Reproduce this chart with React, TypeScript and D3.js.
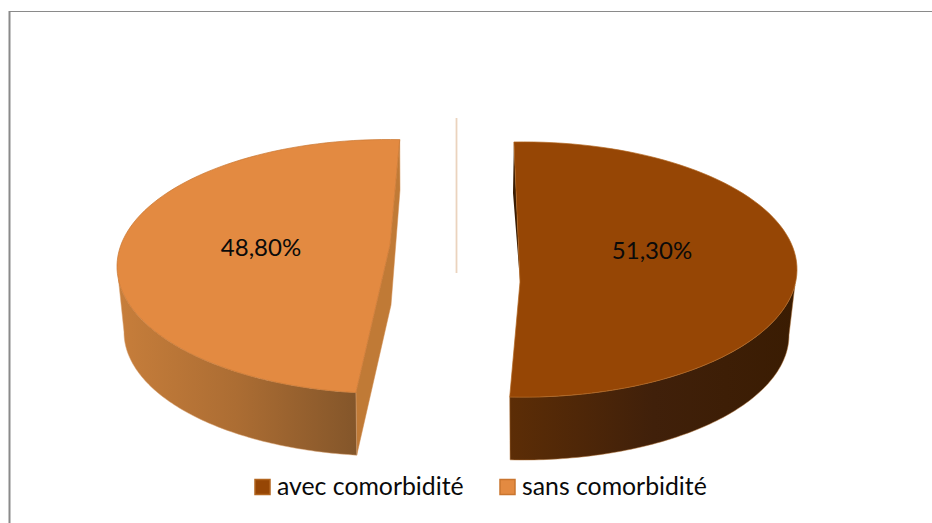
import React from "react";
import * as d3 from "d3";

const categories = ["avec comorbidité", "sans comorbidité"];
const values = [51.3, 48.8];
const valueLabels = ["51,30%", "48,80%"];
const topColors = ["#964605", "#E38A41"];
const edgeColors = ["#B2651F", "#C9752F"];
const startAngles = [-1.9, 186.8];
const wallStops = [
  ["#5C2D06", "#40200A", "#3A1C02"],
  ["#C77E3B", "#AC6D33", "#84562A"],
];

const W = 932;
const H = 523;
const rad = d3.scaleLinear().domain([0, 360]).range([0, 2 * Math.PI]);
const share = d3.scaleLinear().domain([0, 100]).range([0, 360]);

type Ellipse = { cx: number; cy: number; rx: number; ry: number };
type Geo = { top: Ellipse; base: Ellipse; wallFrom: number; apex: [number, number]; inner: [number, number][] };
const geos: Geo[] = [
  {
    top: { cx: 523, cy: 269.5, rx: 274, ry: 127.6 },
    base: { cx: 523, cy: 335, rx: 266, ry: 125 },
    wallFrom: 97,
    apex: [520, 282],
    inner: [[513, 193], [520, 281]],
  },
  {
    top: { cx: 388, cy: 266.5, rx: 271, ry: 127 },
    base: { cx: 388, cy: 332, rx: 264, ry: 124 },
    wallFrom: 264,
    apex: [390, 245],
    inner: [[400, 190], [391, 305]],
  },
];

const line = d3.line<[number, number]>().curve(d3.curveLinear);

function pt(e: Ellipse, deg: number): [number, number] {
  const a = rad(deg);
  return [e.cx + e.rx * Math.sin(a), e.cy - e.ry * Math.cos(a)];
}
function arcPts(e: Ellipse, from: number, to: number): [number, number][] {
  const n = 90;
  return d3.range(n + 1).map((i) => pt(e, from + ((to - from) * i) / n));
}

export default function App() {
  const slices = values.map((v, i) => {
    const start = startAngles[i];
    return { start, end: start + share(v), g: geos[i] };
  });
  const [r, l] = slices;

  const topPath = (s: typeof r) => line([...arcPts(s.g.top, s.start, s.end), s.g.apex])! + "Z";

  const rightWall = line([...arcPts(r.g.top, r.g.wallFrom, r.end), ...arcPts(r.g.base, r.end, 90)])! + "Z";
  const leftWall = line([...arcPts(l.g.top, l.g.wallFrom, l.start), ...arcPts(l.g.base, l.start, 270)])! + "Z";

  const leftInner = line([
    pt(l.g.top, l.end),
    l.g.inner[0],
    l.g.inner[1],
    pt(l.g.base, l.start),
    pt(l.g.top, l.start),
    l.g.apex,
  ])! + "Z";

  const rightInner = line([pt(r.g.top, r.start), r.g.inner[0], r.g.inner[1], r.g.apex])! + "Z";

  const labelPos: [number, number][] = [[652, 253], [261, 250]];
  const legendSwatch = [255, 500];
  const legendText = [277, 522];

  return (
    <svg
      width={W}
      height={H}
      viewBox={`0 0 ${W} ${H}`}
      style={{ position: "fixed", left: 0, top: 0, background: "#fff", display: "block" }}
    >
      <defs>
        <linearGradient id="wall0" gradientUnits="userSpaceOnUse" x1={510} x2={797} y1={0} y2={0}>
          {wallStops[0].map((c, i) => (
            <stop key={i} offset={`${i * 50}%`} stopColor={c} />
          ))}
        </linearGradient>
        <linearGradient id="wall1" gradientUnits="userSpaceOnUse" x1={117} x2={355} y1={0} y2={0}>
          {wallStops[1].map((c, i) => (
            <stop key={i} offset={`${i * 50}%`} stopColor={c} />
          ))}
        </linearGradient>
      </defs>

      <line x1={9.5} x2={9.5} y1={11} y2={H} stroke="#8a8a8a" strokeWidth={2} />
      <line x1={9} x2={W} y1={11.5} y2={11.5} stroke="#8a8a8a" strokeWidth={1.2} />

      <line x1={456.5} x2={456.5} y1={118} y2={273} stroke="#EBD3BE" strokeWidth={1.8} />

      <path d={leftInner} fill="#C07A36" stroke="#D08A4C" strokeWidth={0.5} />
      <path d={leftWall} fill="url(#wall1)" stroke="#D9A272" strokeWidth={0.5} />
      <path d={topPath(l)} fill={topColors[1]} stroke={edgeColors[1]} strokeWidth={0.7} />

      <path d={rightInner} fill="#3A1C02" />
      <path d={rightWall} fill="url(#wall0)" stroke="#B5763C" strokeWidth={0.5} />
      <path d={topPath(r)} fill={topColors[0]} stroke={edgeColors[0]} strokeWidth={0.7} />

      {valueLabels.map((t, i) => (
        <text
          key={t}
          x={labelPos[i][0]}
          y={labelPos[i][1]}
          textAnchor="middle"
          dominantBaseline="middle"
          fontFamily="Lato, 'Open Sans', sans-serif"
          fontSize={24}
          fill="#0a0a0a"
        >
          {t}
        </text>
      ))}

      {categories.map((c, i) => (
        <g key={c}>
          <rect
            x={legendSwatch[i]}
            y={479.5}
            width={15}
            height={15}
            fill={topColors[i]}
            stroke={edgeColors[i]}
            strokeWidth={1.5}
          />
          <text
            x={legendText[i]}
            y={495}
            fontFamily="Lato, 'Open Sans', sans-serif"
            fontSize={24.8}
            fill="#0a0a0a"
          >
            {c}
          </text>
        </g>
      ))}
    </svg>
  );
}
